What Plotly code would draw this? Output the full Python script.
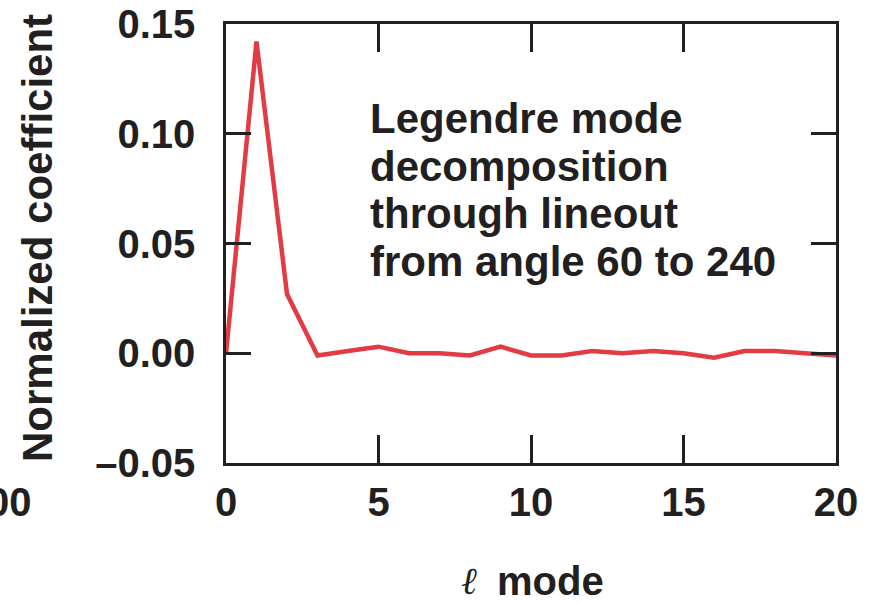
import plotly.graph_objects as go

# ---- data ----
l_mode = list(range(0, 21))
coef = [0.0, 0.142, 0.027, -0.001, 0.001, 0.003, 0.0, 0.0, -0.001, 0.003,
        -0.001, -0.001, 0.001, 0.0, 0.001, 0.0, -0.002, 0.001, 0.001, 0.0, -0.001]

x_tickvals = [0, 5, 10, 15, 20]
x_ticktext = ["0", "5", "10", "15", "20"]
y_tickvals = [-0.05, 0.0, 0.05, 0.10, 0.15]
y_ticktext = ["\u20130.05", "0.00", "0.05", "0.10", "0.15"]

note_lines = ["Legendre mode", "decomposition", "through lineout", "from angle 60 to 240"]

# ---- layout constants ----
W, H = 871, 603
L, R, T, B = 226, 35, 24, 140
PW = W - L - R
PH = H - T - B
INK = "#231F20"
RED = "#E23B44"
FONT = "Liberation Sans"


def px_x(px):
    return (px - L) / PW


def px_y(py):
    return 1 - (py - T) / PH


fig = go.Figure()
fig.add_trace(go.Scatter(x=l_mode, y=coef, mode="lines",
                         line=dict(color=RED, width=4.5), showlegend=False,
                         cliponaxis=False))

axis_common = dict(showline=True, linecolor=INK, linewidth=2.5, mirror="ticks",
                   ticks="inside", tickcolor=INK, tickwidth=2.5,
                   showgrid=False, zeroline=False, automargin=False,
                   tickfont=dict(family=FONT, size=40, color=INK, weight="bold"))

fig.update_xaxes(range=[0, 20], tickvals=x_tickvals, ticktext=x_ticktext,
                 ticklen=28, ticklabelstandoff=2, **axis_common)
fig.update_yaxes(range=[-0.05, 0.15], tickvals=y_tickvals, ticktext=y_ticktext,
                 ticklen=25, ticklabelstandoff=20, **axis_common)

annotations = []
# note text, one annotation per line
note_y = [118, 166, 213, 261]
for txt, yy in zip(note_lines, note_y):
    annotations.append(dict(text=txt, xref="paper", yref="paper",
                            x=px_x(368), y=px_y(yy), xanchor="left", yanchor="middle",
                            showarrow=False,
                            font=dict(family=FONT, size=42, color=INK, weight="bold")))

# y axis title
annotations.append(dict(text="Normalized coefficient", xref="paper", yref="paper",
                        x=px_x(38), y=px_y(238), xanchor="center", yanchor="middle",
                        textangle=-90, showarrow=False,
                        font=dict(family=FONT, size=42, color=INK, weight="bold")))

# x axis title: script ell + bold "mode"
annotations.append(dict(text="\u2113", xref="paper", yref="paper",
                        x=px_x(469), y=px_y(581), xanchor="center", yanchor="middle",
                        showarrow=False,
                        font=dict(family="DejaVu Serif", size=38, color=INK,
                                  style="italic", weight="normal")))
annotations.append(dict(text="mode", xref="paper", yref="paper",
                        x=px_x(495), y=px_y(581), xanchor="left", yanchor="middle",
                        showarrow=False,
                        font=dict(family=FONT, size=40, color=INK, weight="bold")))

# clipped tick label from a neighbouring panel at the left edge
annotations.append(dict(text="00", xref="paper", yref="paper",
                        x=px_x(34), y=px_y(502), xanchor="right", yanchor="middle",
                        showarrow=False,
                        font=dict(family=FONT, size=40, color=INK, weight="bold")))

fig.update_layout(width=W, height=H, margin=dict(l=L, r=R, t=T, b=B),
                  paper_bgcolor="white", plot_bgcolor="white",
                  annotations=annotations)

fig.write_html("out.html")
